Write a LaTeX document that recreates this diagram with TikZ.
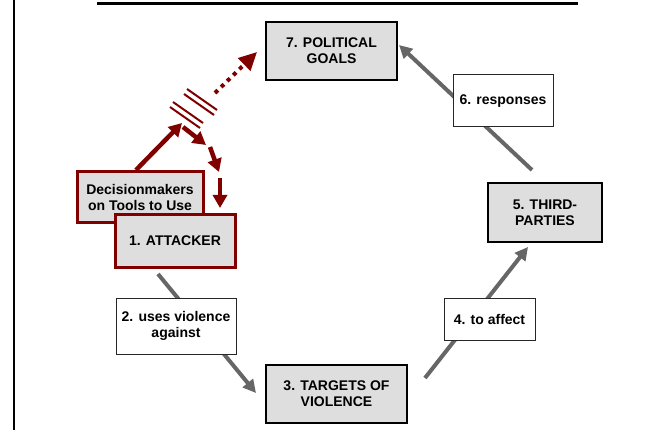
\documentclass[tikz,border=0pt]{standalone}
\usepackage{fontspec}
\setmainfont{Liberation Sans}
\usetikzlibrary{arrows.meta,backgrounds}
\definecolor{boxgray}{RGB}{222,222,222}
\definecolor{arrgray}{RGB}{102,102,102}
\definecolor{maroon}{RGB}{128,0,0}
\tikzset{
  txt/.style={font=\fontsize{14}{16}\selectfont\bfseries, align=center, inner sep=0pt},
  mainbox/.style={txt, draw=black, line width=2pt, fill=boxgray},
  labelbox/.style={txt, draw=black!85, line width=1pt, fill=white},
  redbox/.style={txt, draw=maroon, line width=3pt, fill=boxgray},
  grayarrow/.style={draw=arrgray, line width=4pt, -{Triangle[length=13pt,width=13pt]}},
  redarrow/.style={draw=maroon, line width=4.5pt, -{Triangle[length=13pt,width=14pt]}},
  breakline/.style={draw=maroon, line width=2pt},
}
\begin{document}
\begin{tikzpicture}[x=1pt,y=-1pt]
\useasboundingbox (0,0) rectangle (658,430);
% frame fragments
\draw[line width=2pt] (13.7,0) -- (13.7,430);
\draw[line width=3pt] (97,3.5) -- (578,3.5);

% coordinates for connectors
\coordinate (a12s) at (158,274);
\coordinate (a12t) at (256,393);
\coordinate (a35s) at (425,378);
\coordinate (a35t) at (528,247);
\coordinate (a57s) at (532,170);
\coordinate (a57t) at (399,45);
\coordinate (r1s) at (136,170);
\coordinate (r1t) at (182,123);
\coordinate (dots) at (215,93);
\coordinate (dott) at (257,52);
\coordinate (d1s) at (183,127);
\coordinate (d1t) at (206,145);
\coordinate (d2s) at (210,147);
\coordinate (d2t) at (219,172);
\coordinate (d3s) at (220,178);
\coordinate (d3t) at (220,208);
\coordinate (bA1s) at (173,102); \coordinate (bA1t) at (203,123);
\coordinate (bA2s) at (170,107); \coordinate (bA2t) at (200,128);
\coordinate (bB1s) at (187,89);  \coordinate (bB1t) at (217,110);
\coordinate (bB2s) at (184,94);  \coordinate (bB2t) at (214,115);

% gray cycle arrows (behind labels)
\draw[grayarrow] (a12s) -- (a12t);
\draw[grayarrow] (a35s) -- (a35t);
\draw[grayarrow] (a57s) -- (a57t);

% main nodes
\node[mainbox, minimum width=131pt, minimum height=58pt] (n7) at (331.5,51) {7. POLITICAL\\GOALS};
\node[labelbox, minimum width=100pt, minimum height=52pt] (n6) at (503,101) {6. responses};
\node[mainbox, minimum width=114pt, minimum height=59pt] (n5) at (545,212.5) {5. THIRD-\\PARTIES};
\node[labelbox, minimum width=91pt, minimum height=42pt] (n4) at (489.5,319) {4. to affect};
\node[mainbox, minimum width=141pt, minimum height=58pt] (n3) at (336.5,394) {3. TARGETS OF\\VIOLENCE};
\node[labelbox, minimum width=120pt, minimum height=56pt] (n2) at (176,326) {2. uses violence\\against};
\node[redbox, minimum width=126pt, minimum height=51pt] (dm) at (140,197.5) {Decisionmakers\\on Tools to Use};
\node[redbox, minimum width=120pt, minimum height=52pt] (n1) at (175,241) {1. ATTACKER};

% red arrows
\draw[redarrow] (r1s) -- (r1t);
\draw[breakline] (bA1s) -- (bA1t);
\draw[breakline] (bA2s) -- (bA2t);
\draw[breakline] (bB1s) -- (bB1t);
\draw[breakline] (bB2s) -- (bB2t);
\draw[draw=maroon, line width=4pt, dash pattern=on 4pt off 4.5pt, -{Triangle[length=18pt,width=17pt]}] (dots) -- (dott);
\draw[redarrow] (d1s) -- (d1t);
\draw[redarrow] (d2s) -- (d2t);
\draw[redarrow] (d3s) -- (d3t);
\end{tikzpicture}
\end{document}
